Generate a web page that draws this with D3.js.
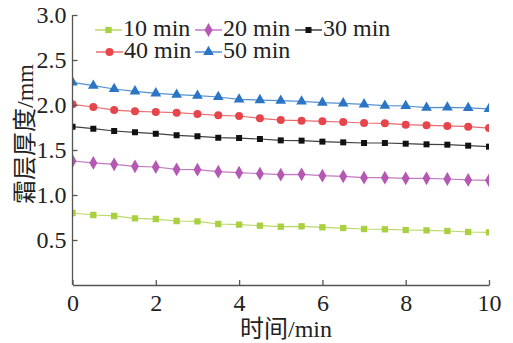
<!DOCTYPE html>
<html>
<head>
<meta charset="utf-8">
<script src="https://cdn.jsdelivr.net/npm/d3@7"></script>
<style>
    body { margin: 0; background: #fff; }
    .chart text { font-family: "Liberation Serif", "Times New Roman", "Noto Sans CJK SC", serif; fill: #222; }
    .axis path, .axis line { stroke: #555; stroke-width: 1.3; }
</style>
</head>
<body>
<svg class="chart"></svg>
<script>
    var times = [0, 0.5, 1, 1.5, 2, 2.5, 3, 3.5, 4, 4.5, 5, 5.5, 6, 6.5, 7, 7.5, 8, 8.5, 9, 9.5, 10];
    var seriesNames = ["10 min", "20 min", "30 min", "40 min", "50 min"];
    var s10 = [0.80, 0.778, 0.767, 0.741, 0.733, 0.711, 0.707, 0.678, 0.670, 0.659, 0.648, 0.652, 0.641, 0.633, 0.622, 0.619, 0.611, 0.607, 0.600, 0.589, 0.585];
    var s20 = [1.378, 1.356, 1.341, 1.319, 1.311, 1.285, 1.281, 1.259, 1.248, 1.237, 1.226, 1.230, 1.215, 1.207, 1.193, 1.193, 1.185, 1.185, 1.178, 1.167, 1.163];
    var s30 = [1.759, 1.737, 1.711, 1.696, 1.681, 1.663, 1.652, 1.637, 1.633, 1.622, 1.607, 1.604, 1.593, 1.585, 1.578, 1.578, 1.570, 1.563, 1.559, 1.548, 1.537];
    var s40 = [2.008, 1.978, 1.944, 1.930, 1.922, 1.915, 1.900, 1.885, 1.878, 1.852, 1.833, 1.826, 1.819, 1.811, 1.800, 1.796, 1.781, 1.774, 1.767, 1.759, 1.744];
    var s50 = [2.252, 2.215, 2.178, 2.152, 2.130, 2.115, 2.104, 2.089, 2.063, 2.055, 2.048, 2.040, 2.026, 2.019, 2.008, 1.993, 1.989, 1.970, 1.974, 1.967, 1.956];
    var xTicks = [0, 2, 4, 6, 8, 10];
    var yTicks = [0.5, 1.0, 1.5, 2.0, 2.5, 3.0];

    var colors = ["#a9d040", "#b458b4", "#111111", "#e5454b", "#2b76c4"];
    var symbols = [d3.symbolSquare, d3.symbolDiamond, d3.symbolSquare, d3.symbolCircle, d3.symbolTriangle];
    var sizes = [40, 55, 36, 50, 50];
    var allData = [s10, s20, s30, s40, s50];

    var width = 513, height = 343;
    var plotLeft = 72.5, plotRight = 489, plotTop = 15, plotBottom = 285;

    var x = d3.scaleLinear().domain([0, 10]).range([plotLeft, plotRight]);
    var y = d3.scaleLinear().domain([0, 3]).range([plotBottom, plotTop]);

    var chart = d3.select(".chart").attr("width", width).attr("height", height);

    chart.append("defs").append("clipPath").attr("id", "plot")
        .append("rect")
        .attr("x", plotLeft).attr("y", 0)
        .attr("width", plotRight - plotLeft).attr("height", plotBottom);

    var line = d3.line()
        .x(function (d, i) { return x(times[i]); })
        .y(function (d) { return y(d); });

    var plot = chart.append("g").attr("clip-path", "url(#plot)");

    allData.forEach(function (vals, k) {
        plot.append("path")
            .attr("d", line(vals))
            .attr("fill", "none")
            .attr("stroke", colors[k])
            .attr("stroke-opacity", 0.8)
            .attr("stroke-width", 1.2);
        plot.selectAll(".m" + k)
            .data(vals)
            .enter().append("path")
            .attr("transform", function (d, i) { return "translate(" + x(times[i]) + "," + y(d) + ")"; })
            .attr("d", d3.symbol().type(symbols[k]).size(sizes[k]))
            .attr("fill", colors[k]);
    });

    // X-Axis
    var gx = chart.append("g")
        .attr("class", "axis")
        .attr("transform", "translate(0," + plotBottom + ")")
        .call(d3.axisBottom(x).tickValues(xTicks).tickSizeInner(-5).tickSizeOuter(0).tickPadding(9));
    gx.selectAll("text").style("font-size", "24px");

    // Y-Axis
    var gy = chart.append("g")
        .attr("class", "axis")
        .attr("transform", "translate(" + plotLeft + ",0)")
        .call(d3.axisLeft(y).tickValues(yTicks).tickSizeInner(-5).tickSizeOuter(0).tickPadding(6).tickFormat(d3.format(".1f")));
    gy.selectAll("text").style("font-size", "24px");
    gy.select(".domain").attr("d", "M0," + plotBottom + "V" + plotTop);

    // axis titles
    chart.append("text")
        .attr("x", 286).attr("y", 337)
        .attr("text-anchor", "middle")
        .style("font-size", "24px")
        .text("时间/min");

    chart.append("text")
        .attr("transform", "translate(33,134) rotate(-90)")
        .attr("text-anchor", "middle")
        .style("font-size", "24px")
        .text("霜层厚度/mm");

    // legend
    var legendPos = [[95, 30], [195, 30], [295, 30], [96, 52], [195, 52]];
    seriesNames.forEach(function (name, k) {
        var g = chart.append("g").attr("transform", "translate(" + legendPos[k][0] + "," + legendPos[k][1] + ")");
        g.append("line").attr("x1", 0).attr("x2", 27).attr("y1", 0).attr("y2", 0)
            .attr("stroke", colors[k]).attr("stroke-width", 1.2);
        g.append("path").attr("transform", "translate(13.5,0)")
            .attr("d", d3.symbol().type(symbols[k]).size(sizes[k]))
            .attr("fill", colors[k]);
        g.append("text").attr("x", 28).attr("y", 6)
            .style("font-size", "24px")
            .text(name);
    });
</script>
</body>
</html>
